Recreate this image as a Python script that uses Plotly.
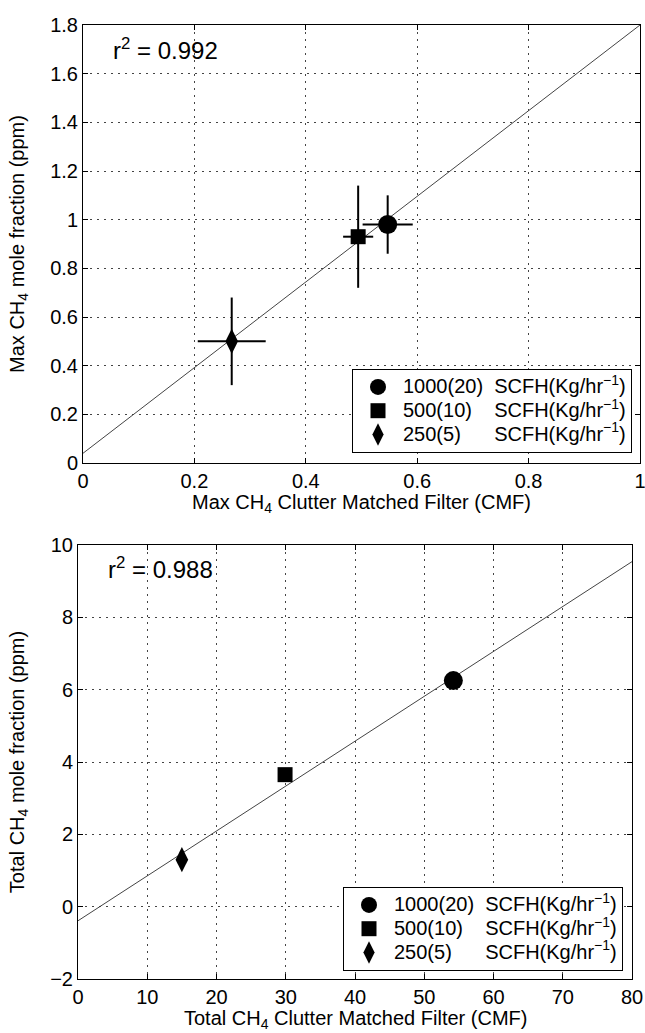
import plotly.graph_objects as go

# ---- data: top panel (max) ----
labels = ["1000(20)", "500(10)", "250(5)"]
top_x = [0.547, 0.494, 0.267]
top_y = [0.98, 0.93, 0.50]
top_xerr = [0.045, 0.027, 0.061]
top_yerr = [0.12, 0.21, 0.18]
top_fit_x = [0.0, 1.0]
top_fit_y = [0.04, 1.80]
top_r2 = "0.992"

# ---- data: bottom panel (total) ----
bot_x = [54.2, 29.9, 15.0]
bot_y = [6.25, 3.65, 1.30]
bot_fit_x = [0.0, 80.0]
bot_fit_y = [-0.39, 9.54]
bot_r2 = "0.988"

top_xticks = [0, 0.2, 0.4, 0.6, 0.8, 1]
top_xtick_text = ["0", "0.2", "0.4", "0.6", "0.8", "1"]
top_yticks = [0, 0.2, 0.4, 0.6, 0.8, 1, 1.2, 1.4, 1.6, 1.8]
top_ytick_text = ["0", "0.2", "0.4", "0.6", "0.8", "1", "1.2", "1.4", "1.6", "1.8"]

symbols = ["circle", "square", "diamond-tall"]
sizes = [19, 15, 18]
unit = "SCFH(Kg/hr<sup>−1</sup>)"
pads = [" \u00a0", " \u00a0\u00a0\u00a0", " \u00a0\u00a0\u00a0\u00a0\u00a0"]

W, H = 645, 1033
FONT = "Liberation Sans, Arial, sans-serif"


def legend_name(i):
    return '<span style="font-size:20px">' + labels[i] + pads[i] + unit + "</span>"


fig = go.Figure()

# fit lines
fig.add_trace(go.Scatter(x=top_fit_x, y=top_fit_y, mode="lines",
                         line=dict(color="#444", width=1), showlegend=False,
                         xaxis="x", yaxis="y", hoverinfo="skip"))
fig.add_trace(go.Scatter(x=bot_fit_x, y=bot_fit_y, mode="lines",
                         line=dict(color="#444", width=1), showlegend=False,
                         xaxis="x2", yaxis="y2", hoverinfo="skip"))

for i in range(3):
    fig.add_trace(go.Scatter(
        x=[top_x[i]], y=[top_y[i]], mode="markers", name=legend_name(i),
        marker=dict(symbol=symbols[i], size=sizes[i], color="black"),
        error_x=dict(type="data", array=[top_xerr[i]], color="black", thickness=2, width=0),
        error_y=dict(type="data", array=[top_yerr[i]], color="black", thickness=2, width=0),
        xaxis="x", yaxis="y", legend="legend"))
for i in range(3):
    fig.add_trace(go.Scatter(
        x=[bot_x[i]], y=[bot_y[i]], mode="markers", name=legend_name(i),
        marker=dict(symbol=symbols[i], size=sizes[i], color="black"),
        xaxis="x2", yaxis="y2", legend="legend2"))

axis_common = dict(showline=True, linecolor="black", linewidth=1, mirror="allticks",
                   ticks="inside", ticklen=5, tickcolor="black", automargin=False,
                   ticklabeloverflow="allow",
                   showgrid=True, gridcolor="#444", griddash="2px,5px", gridwidth=1,
                   zeroline=False, tickfont=dict(family=FONT, size=20, color="black"))
title_font = dict(family=FONT, size=20, color="black")
legend_common = dict(bordercolor="black", borderwidth=1, bgcolor="white",
                     font=dict(family=FONT, size=16, color="black"),
                     itemsizing="trace", tracegroupgap=0, itemwidth=40)

fig.update_layout(
    width=W, height=H, plot_bgcolor="white", paper_bgcolor="white",
    margin=dict(l=0, r=0, t=0, b=0), font=dict(family=FONT, color="black"),
    xaxis=dict(domain=[83 / W, 640 / W], range=[0, 1], anchor="y",
               tickvals=top_xticks, ticktext=top_xtick_text, **axis_common),
    yaxis=dict(domain=[1 - 463 / H, 1 - 25 / H], range=[0, 1.8], anchor="x",
               tickvals=top_yticks, ticktext=top_ytick_text,
               title=dict(text="Max CH<sub>4</sub> mole fraction (ppm)",
                          font=title_font, standoff=20),
               **axis_common),
    xaxis2=dict(domain=[78 / W, 632 / W], range=[0, 80], dtick=10, anchor="y2",
                **axis_common),
    yaxis2=dict(domain=[1 - 979 / H, 1 - 545 / H], range=[-2, 10], dtick=2, anchor="x2",
                title=dict(text="Total CH<sub>4</sub> mole fraction (ppm)",
                           font=title_font, standoff=20),
                **axis_common),
    legend=dict(x=632 / W, y=1 - 453 / H, xanchor="right", yanchor="bottom", **legend_common),
    legend2=dict(x=623 / W, y=1 - 971 / H, xanchor="right", yanchor="bottom", **legend_common),
    annotations=[
        dict(text="r<sup>2</sup> = " + top_r2, xref="x domain", yref="y domain",
             x=0.05, y=0.945, xanchor="left", yanchor="middle", showarrow=False,
             font=dict(family=FONT, size=24)),
        dict(text="r<sup>2</sup> = " + bot_r2, xref="x2 domain", yref="y2 domain",
             x=0.05, y=0.948, xanchor="left", yanchor="middle", showarrow=False,
             font=dict(family=FONT, size=24)),
        dict(text="Max CH<sub>4</sub> Clutter Matched Filter (CMF)", xref="x domain",
             yref="paper", x=0.5, y=1 - 503 / H, xanchor="center", yanchor="middle",
             showarrow=False, font=title_font),
        dict(text="Total CH<sub>4</sub> Clutter Matched Filter (CMF)", xref="x2 domain",
             yref="paper", x=0.5, y=1 - 1019 / H, xanchor="center", yanchor="middle",
             showarrow=False, font=title_font),
    ],
)

fig.write_html("out.html", config={"displayModeBar": False},
               post_script="document.body.style.margin='0';document.body.style.overflow='hidden';")
